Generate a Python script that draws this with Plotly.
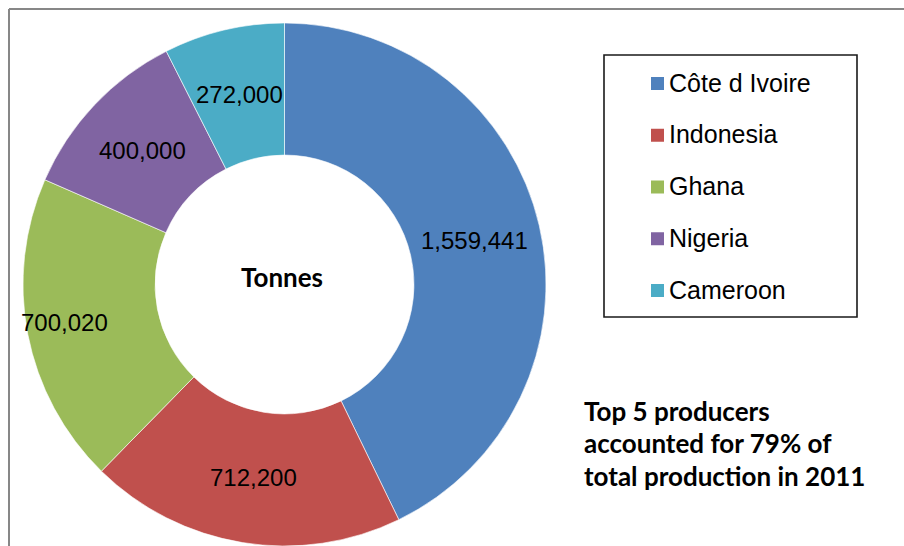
import math
import plotly.graph_objects as go

# Cocoa production 2011, top 5 producers (tonnes)
countries = ["Côte d Ivoire", "Indonesia", "Ghana", "Nigeria", "Cameroon"]
tonnes = [1559441, 712200, 700020, 400000, 272000]
colors = ["#4F81BD", "#C0504D", "#9BBB59", "#8064A2", "#4BACC6"]
note_lines = ["Top 5 producers", "accounted for 79% of", "total production in 2011"]
center_label = "Tonnes"

W, H = 904, 546
dom_x = [22.5 / W, 546.5 / W]
dom_y = [0.0, 523 / H]
hole = 0.495

fig = go.Figure(
    go.Pie(
        labels=countries,
        values=tonnes,
        marker=dict(colors=colors, line=dict(color="white", width=0.6)),
        hole=hole,
        sort=False,
        direction="clockwise",
        rotation=0,
        textinfo="none",
        hoverinfo="label+value",
        showlegend=False,
        domain=dict(x=dom_x, y=dom_y),
    )
)

# pie geometry in pixels (measured from the top-left corner)
cx = (dom_x[0] + dom_x[1]) / 2 * W
cy = H - (dom_y[0] + dom_y[1]) / 2 * H
R = min((dom_x[1] - dom_x[0]) * W, (dom_y[1] - dom_y[0]) * H) / 2
r_mid = R * (1 + hole) / 2

def to_paper(px, py):
    return px / W, 1 - py / H

annotations = []
shapes = []

# value labels at the middle of each ring segment
label_shift = {"Ghana": (-28, -1)}
total = sum(tonnes)
cum = 0
for name, v in zip(countries, tonnes):
    a0 = cum / total * 2 * math.pi
    cum += v
    a1 = cum / total * 2 * math.pi
    am = (a0 + a1) / 2
    x, y = to_paper(cx + r_mid * math.sin(am), cy - r_mid * math.cos(am))
    dx, dy = label_shift.get(name, (0, 0))
    annotations.append(dict(
        x=x, y=y, xref="paper", yref="paper", text=f"{v:,}", showarrow=False,
        xanchor="center", yanchor="middle", xshift=dx, yshift=dy,
        font=dict(family="Liberation Sans, Arial, sans-serif", size=24, color="#000000"),
    ))

# centre caption
tx, ty = to_paper(282, 277)
annotations.append(dict(
    x=tx, y=ty, xref="paper", yref="paper", text=f"<b>{center_label}</b>", showarrow=False,
    xanchor="center", yanchor="middle",
    font=dict(family="Lato, Carlito, sans-serif", size=26, color="#000000"),
))

# legend drawn as a boxed list
bx0, by1 = to_paper(604, 55)
bx1, by0 = to_paper(857, 317)
shapes.append(dict(type="rect", xref="paper", yref="paper", x0=bx0, x1=bx1, y0=by0, y1=by1,
                   line=dict(color="#1a1a1a", width=1.6), fillcolor="rgba(0,0,0,0)"))
row0, row_gap = 83.5, 51.75
for i, (name, col) in enumerate(zip(countries, colors)):
    yc = row0 + i * row_gap
    sx0, sy1 = to_paper(651, yc - 6.5)
    sx1, sy0 = to_paper(664, yc + 6.5)
    shapes.append(dict(type="rect", xref="paper", yref="paper", x0=sx0, x1=sx1, y0=sy0, y1=sy1,
                       line=dict(width=0), fillcolor=col))
    lx, ly = to_paper(667, yc - 1)
    annotations.append(dict(
        x=lx, y=ly, xref="paper", yref="paper", text=name, showarrow=False,
        xanchor="left", yanchor="middle",
        font=dict(family="Liberation Sans, Arial, sans-serif", size=25, color="#000000"),
    ))

# side note
for i, line in enumerate(note_lines):
    nx, ny = to_paper(582, 410.5 + i * 32.5)
    annotations.append(dict(
        x=nx, y=ny, xref="paper", yref="paper", text=f"<b>{line}</b>", showarrow=False,
        xanchor="left", yanchor="middle",
        font=dict(family="Lato, Carlito, sans-serif", size=26, color="#000000"),
    ))

# chart frame (top and left edges)
fx, fy = to_paper(9, 9)
shapes.append(dict(type="line", xref="paper", yref="paper", x0=fx, x1=fx, y0=0, y1=fy,
                   line=dict(color="#878787", width=2)))
shapes.append(dict(type="line", xref="paper", yref="paper", x0=fx, x1=1, y0=fy, y1=fy,
                   line=dict(color="#878787", width=2)))

fig.update_layout(
    width=W, height=H,
    margin=dict(l=0, r=0, t=0, b=0),
    paper_bgcolor="white", plot_bgcolor="white",
    annotations=annotations, shapes=shapes,
)

fig.write_html("out.html")
